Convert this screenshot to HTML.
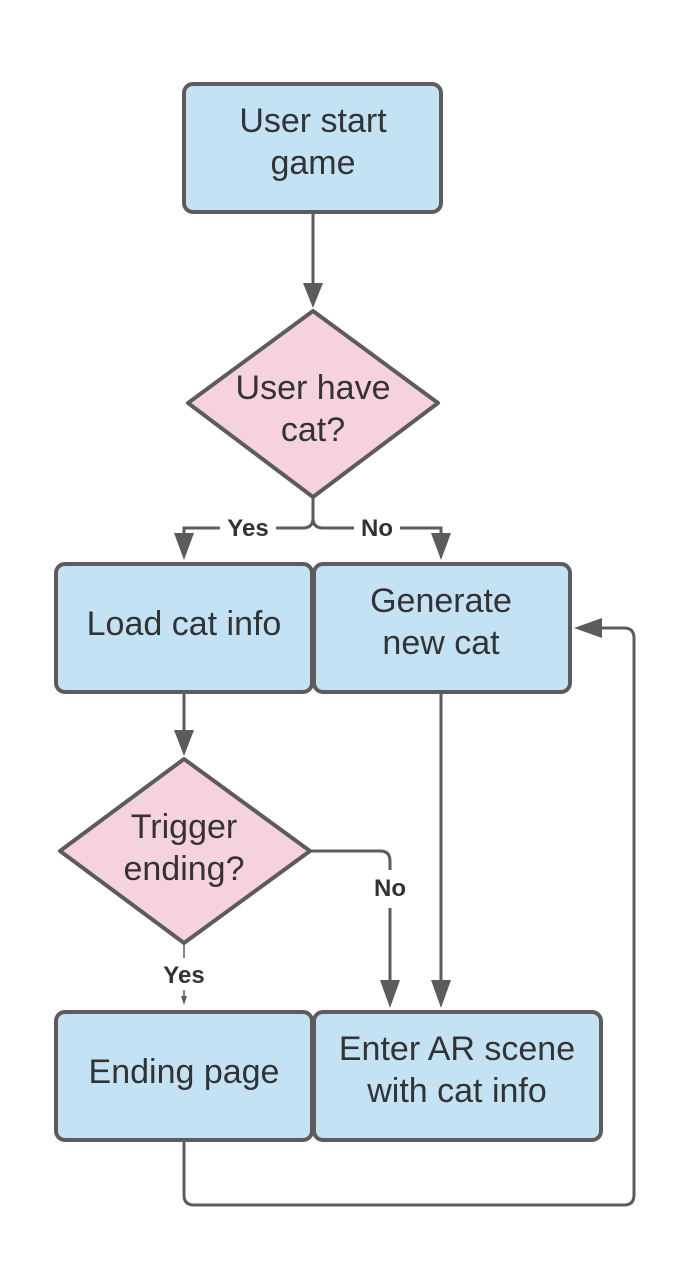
<!DOCTYPE html>
<html><head><meta charset="utf-8"><style>
html,body{margin:0;padding:0;background:#fff;}
svg{display:block;}
text{font-family:"Liberation Sans",sans-serif;fill:#333;}
.b{font-size:34px;text-anchor:middle;}
.d{font-size:34px;text-anchor:middle;}
.l{font-size:24px;font-weight:bold;text-anchor:middle;}
</style></head><body>
<svg width="678" height="1278" viewBox="0 0 678 1278" xmlns="http://www.w3.org/2000/svg">
<g fill="none" stroke="#5c5c5c" stroke-width="3">
<line x1="313" y1="212" x2="313" y2="285"/>
<path d="M313 497 V518 Q313 528 303 528 H184 V535"/>
<path d="M313 518 Q313 528 323 528 H441 V535"/>
<line x1="184" y1="692" x2="184" y2="732"/>
<path d="M310 851 H380 Q390 851 390 861 V870"/>
<line x1="390" y1="908" x2="390" y2="982"/>
<line x1="441" y1="692" x2="441" y2="982"/>
<path d="M184 1140 V1195 Q184 1205 194 1205 H624 Q634 1205 634 1195 V638 Q634 628 624 628 H600"/>
</g>
<g fill="none" stroke="#5c5c5c" stroke-width="1.5">
<line x1="184" y1="943" x2="184" y2="958"/>
<line x1="184" y1="990" x2="184" y2="996"/>
</g>
<g fill="#5c5c5c">
<polygon points="303,283 323,283 313,308"/>
<polygon points="174,533 194,533 184,560"/>
<polygon points="431,533 451,533 441,560"/>
<polygon points="174,730 194,730 184,756"/>
<polygon points="380,980 400,980 390,1008"/>
<polygon points="431,980 451,980 441,1008"/>
<polygon points="181,996 187,996 184,1005"/>
<polygon points="602,618 602,638 574,628"/>
</g>
<g stroke="#5c5c5c" stroke-width="4" fill="#c3e3f5">
<rect x="184" y="84" width="257" height="128" rx="9"/>
<rect x="56" y="564" width="256" height="128" rx="9"/>
<rect x="314" y="564" width="256" height="128" rx="9"/>
<rect x="56" y="1012" width="256" height="128" rx="9"/>
<rect x="314" y="1012" width="287" height="128" rx="9"/>
</g>
<g stroke="#5c5c5c" stroke-width="4" fill="#f6d1de" stroke-linejoin="round">
<polygon points="313,311 438,403 313,497 188,403"/>
<polygon points="184,759 310,851 184,943 60,851"/>
</g>
<text class="b" x="313" y="132">User start</text>
<text class="b" x="313" y="174">game</text>
<text class="d" x="313" y="399">User have</text>
<text class="d" x="313" y="441">cat?</text>
<rect x="220" y="514" width="56" height="28" fill="#fff"/>
<text class="l" x="248" y="536">Yes</text>
<rect x="354" y="514" width="46" height="28" fill="#fff"/>
<text class="l" x="377" y="536">No</text>
<text class="b" x="184" y="635">Load cat info</text>
<text class="b" x="441" y="612">Generate</text>
<text class="b" x="441" y="654">new cat</text>
<text class="d" x="184" y="838">Trigger</text>
<text class="d" x="184" y="880">ending?</text>
<text class="l" x="390" y="896">No</text>
<text class="l" x="184" y="983">Yes</text>
<text class="b" x="184" y="1083">Ending page</text>
<text class="b" x="457" y="1060">Enter AR scene</text>
<text class="b" x="457" y="1102">with cat info</text>
</svg>
</body></html>
